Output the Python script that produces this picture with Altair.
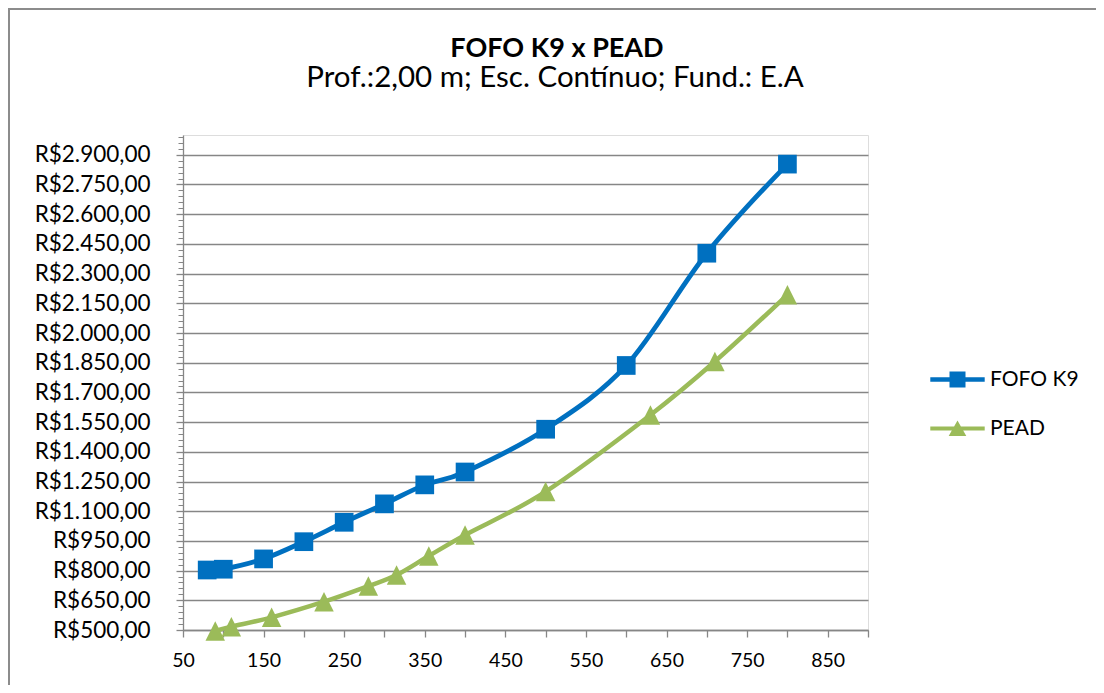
import altair as alt
import pandas as pd

# ---- data ----
fofo_x = [80, 100, 150, 200, 250, 300, 350, 400, 500, 600, 700, 800]
fofo_y = [803, 807, 859, 946, 1044, 1137, 1233, 1298, 1514, 1836, 2403, 2853]
pead_x = [90, 110, 160, 225, 280, 315, 355, 400, 500, 630, 710, 800]
pead_y = [495, 517, 564, 643, 722, 778, 874, 980, 1199, 1586, 1856, 2193]
series_names = ["FOFO K9", "PEAD"]
series_colors = ["#0070C0", "#9BBB59"]
title_text = "FOFO K9 x PEAD"
subtitle_text = "Prof.:2,00 m; Esc. Contínuo; Fund.: E.A"
y_ticks = list(range(500, 2901, 150))
y_minor = list(range(500, 3001, 30))
x_ticks = list(range(50, 901, 50))

df = pd.DataFrame({
    "x": fofo_x + pead_x,
    "y": fofo_y + pead_y,
    "s": ["FOFO K9"] * len(fofo_x) + ["PEAD"] * len(pead_x),
})

W, H = 685, 495
PL, PT, PR, PB = 175, 127, 228, 55
FONT = "Lato"
GRAY = "#868686"

xs = alt.Scale(domain=[50, 900], nice=False, zero=False)
ys = alt.Scale(domain=[500, 3000], nice=False, zero=False)

ylab = ("'R$' + replace(replace(replace(format(datum.value, ',.2f'), ',', '#'), '.', ','), '#', '.')")

x_enc = alt.X("x:Q", scale=xs, title=None,
              axis=alt.Axis(values=x_ticks, grid=False, domainColor=GRAY, domainWidth=1.3,
                            tickColor=GRAY, tickWidth=1.3, tickSize=7,
                            labelExpr="(datum.value - 50) % 100 == 0 ? datum.value : ''",
                            labelFont=FONT, labelFontSize=19.5, labelColor="#000000",
                            labelPadding=14, labelFlush=False, labelOverlap=False))
y_enc = alt.Y("y:Q", scale=ys, title=None,
              axis=alt.Axis(values=y_ticks, orient="left", grid=True, gridColor=GRAY, gridWidth=1.3,
                            domainColor=GRAY, domainWidth=1.3, tickColor=GRAY, tickWidth=1.3,
                            tickSize=7, labelExpr=ylab, labelFont=FONT, labelFontSize=22.5,
                            labelColor="#000000", labelPadding=26, labelOverlap=False,
                            labelFlush=False))

base = alt.Chart(df)

TRI = "M0,-1L1,1L-1,1Z"

def series_layers(name, color, shape, size, width):
    d = base.transform_filter(alt.datum.s == name)
    line = d.mark_line(color=color, strokeWidth=width, interpolate="cardinal", tension=0,
                       clip=False).encode(x=x_enc, y=y_enc)
    pts = d.mark_point(color=color, filled=True, opacity=1, shape=shape, size=size,
                       clip=False).encode(x=x_enc, y=y_enc)
    return [line, pts]

layers = []
layers += series_layers("FOFO K9", "#0070C0", "square", 350, 4.8)
layers += series_layers("PEAD", "#9BBB59", TRI, 380, 4.5)

legend_paths = [
    "M-3.4,-0.28H3.4V0.28H-3.4Z M-1,-1H1V1H-1Z",
    "M-3.4,-0.25H3.4V0.25H-3.4Z M0,-1L1.1,0.95L-1.1,0.95Z",
]
legend_layer = base.transform_filter("false").mark_point(filled=True, size=256, opacity=1).encode(
    x=x_enc,
    y=y_enc,
    color=alt.Color("s:N", scale=alt.Scale(domain=series_names, range=series_colors),
                    legend=alt.Legend(title=None, orient="none", legendX=764, legendY=234,
                                      labelFont=FONT, labelFontSize=21, labelColor="#000000",
                                      labelOffset=22, rowPadding=27, symbolStrokeWidth=0,
                                      symbolSize=256, padding=0)),
    shape=alt.Shape("s:N", scale=alt.Scale(domain=series_names, range=legend_paths)),
)
layers.append(legend_layer)

one = pd.DataFrame({"k": [0]})
left_border = alt.Chart(one).mark_rule(color="#8c8c8c", strokeWidth=2, clip=False).encode(
    x=alt.value(-PL + 1), y=alt.value(-PT), y2=alt.value(H + PB))
top_border = alt.Chart(one).mark_rule(color="#8c8c8c", strokeWidth=2, clip=False).encode(
    x=alt.value(-PL), x2=alt.value(W + PR), y=alt.value(-PT + 1))
title_mark = alt.Chart(one).mark_text(font=FONT, fontSize=27, fontWeight="bold", color="#000000",
                                      align="center", baseline="alphabetic").encode(
    x=alt.value(374), y=alt.value(-78), text=alt.value(title_text))
subtitle_mark = alt.Chart(one).mark_text(font=FONT, fontSize=29.5, color="#000000",
                                         align="center", baseline="alphabetic").encode(
    x=alt.value(372), y=alt.value(-48), text=alt.value(subtitle_text))

main = alt.layer(*layers)

minor = base.mark_point(opacity=0).encode(
    x=x_enc,
    y=alt.Y("y:Q", scale=ys, title=None,
            axis=alt.Axis(values=y_minor, orient="left", labels=False, domain=False, grid=False,
                          tickColor=GRAY, tickWidth=1, tickSize=5, title=None)),
)

chart = alt.layer(minor, main).resolve_axis(y="independent")
chart = alt.layer(left_border, top_border, title_mark, subtitle_mark, chart).properties(
    width=W, height=H,
    autosize=alt.AutoSizeParams(type="none"),
    padding={"left": PL, "top": PT, "right": PR, "bottom": PB},
).configure_view(stroke=None).configure(background="white")

chart.save("out.html", embed_options={"renderer": "svg", "actions": False})
